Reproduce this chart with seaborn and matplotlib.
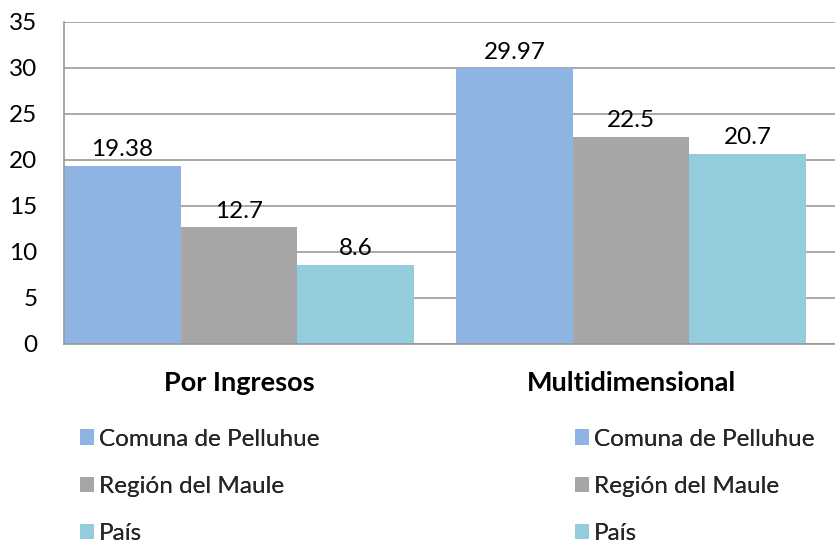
import matplotlib
matplotlib.use("Agg")
import matplotlib.pyplot as plt
import seaborn as sns
import pandas as pd
from matplotlib.patches import Patch

categories = ["Por Ingresos", "Multidimensional"]
series = ["Comuna de Pelluhue", "Región del Maule", "País"]
comuna = [19.38, 29.97]
region = [12.7, 22.5]
pais = [8.6, 20.7]
value_labels = {"Comuna de Pelluhue": ["19.38", "29.97"],
                "Región del Maule": ["12.7", "22.5"],
                "País": ["8.6", "20.7"]}
colors = ["#8EB4E3", "#A6A6A6", "#93CDDD"]

rows = []
for s, vals in zip(series, [comuna, region, pais]):
    for c, v in zip(categories, vals):
        rows.append({"cat": c, "serie": s, "val": v})
df = pd.DataFrame(rows)

sns.set_theme(style="white")
plt.rcParams['font.family'] = ['Lato', 'DejaVu Sans']

fig = plt.figure(figsize=(8.35, 5.44), dpi=100)
ax = fig.add_axes([64/835, 1-344/544, 1-64/835, (344-22)/544])

sns.barplot(data=df, x="cat", y="val", hue="serie", order=categories,
            hue_order=series, palette=colors, width=0.893, saturation=1,
            linewidth=0, ax=ax, legend=False)

for cont, s in zip(ax.containers, series):
    ax.bar_label(cont, labels=value_labels[s], padding=4, fontsize=17.5, color="#000000")

ax.set_xlim(-0.446, 1.52)
ax.set_ylim(0, 35)
ax.set_yticks(range(0, 36, 5))
ax.yaxis.grid(True, color="#999999", linewidth=1.2)
ax.set_axisbelow(True)
for sp in ["top", "right"]:
    ax.spines[sp].set_visible(False)
ax.spines["left"].set_color("#999999")
ax.spines["bottom"].set_color("#999999")
ax.spines["left"].set_linewidth(1.2)
ax.spines["bottom"].set_linewidth(1.2)
ax.tick_params(axis="y", length=0, pad=19, labelsize=17.5, labelcolor="#000000")
ax.tick_params(axis="x", length=0, pad=19.5, labelsize=19.5, labelcolor="#000000")
for lab in ax.get_xticklabels():
    lab.set_fontweight("bold")
ax.set_xlabel("")
ax.set_ylabel("")

handles = [Patch(facecolor=c, edgecolor="none") for c in colors]
for xpos in [70/835, 565/835]:
    leg = fig.legend(handles, series, loc="upper left", bbox_to_anchor=(xpos, 1-419/544),
                     frameon=False, fontsize=17.5, handlelength=0.6, handleheight=0.6,
                     handletextpad=0.2, labelspacing=1.08, borderaxespad=0)
    fig.add_artist(leg)

fig.savefig("out.png", dpi=100)
